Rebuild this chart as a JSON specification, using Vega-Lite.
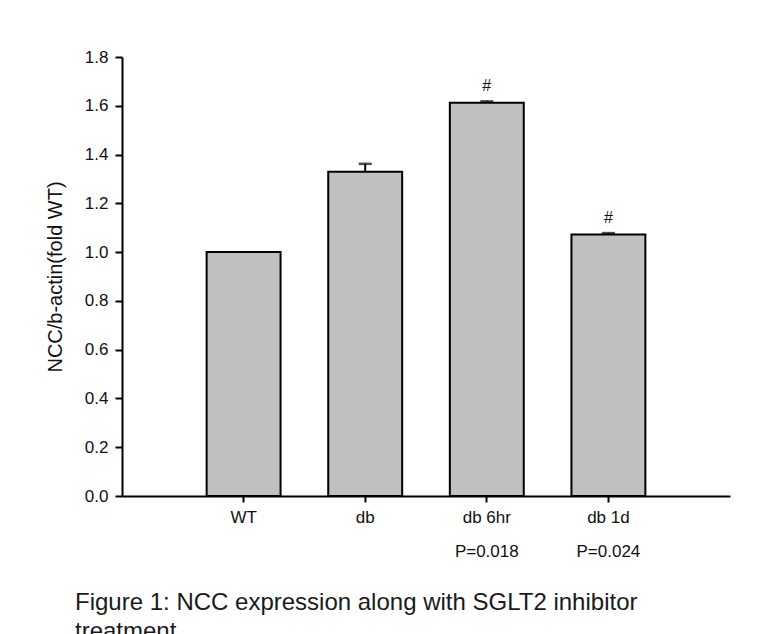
{
  "$schema": "https://vega.github.io/schema/vega-lite/v6.json",
  "autosize": {"type": "none"},
  "width": 608,
  "height": 439,
  "padding": {"left": 122, "top": 57, "right": 42, "bottom": 138},
  "background": "#ffffff",
  "title": {
    "text": ["Figure 1:  NCC expression  along with SGLT2 inhibitor", "treatment"],
    "orient": "bottom",
    "anchor": "start",
    "frame": "group",
    "dx": -47,
    "offset": 31,
    "baseline": "top",
    "font": "Liberation Sans",
    "fontSize": 24,
    "fontWeight": "normal",
    "lineHeight": 29,
    "color": "#1a1a1a"
  },
  "config": {
    "view": {"stroke": null},
    "axis": {
      "grid": false,
      "domainColor": "#000000",
      "domainWidth": 2,
      "tickColor": "#000000",
      "tickWidth": 2,
      "labelColor": "#111111",
      "labelFont": "Liberation Sans",
      "labelFontSize": 17,
      "titleFont": "Liberation Sans",
      "titleColor": "#111111",
      "titleFontWeight": "normal"
    }
  },
  "data": {
    "values": [
      {"group": "WT", "value": 1.0, "upper": 1.0, "p": "", "sig": ""},
      {"group": "db", "value": 1.33, "upper": 1.362, "p": "", "sig": ""},
      {"group": "db 6hr", "value": 1.612, "upper": 1.618, "p": "P=0.018", "sig": "#"},
      {"group": "db 1d", "value": 1.072, "upper": 1.078, "p": "P=0.024", "sig": "#"}
    ]
  },
  "encoding": {
    "x": {
      "field": "group",
      "type": "nominal",
      "sort": ["WT", "db", "db 6hr", "db 1d"],
      "scale": {"paddingInner": 0.392, "paddingOuter": 0.696},
      "axis": {"title": null, "labelAngle": 0, "tickSize": 6, "labelPadding": 7}
    }
  },
  "layer": [
    {
      "mark": {"type": "bar", "fill": "#c0c0c0", "stroke": "#000000", "strokeWidth": 2},
      "encoding": {
        "y": {
          "field": "value",
          "type": "quantitative",
          "scale": {"domain": [0, 1.8], "nice": false, "zero": true},
          "axis": {
            "values": [0, 0.2, 0.4, 0.6, 0.8, 1.0, 1.2, 1.4, 1.6, 1.8],
            "format": ".1f",
            "tickSize": 7,
            "labelPadding": 7,
            "title": "NCC/b-actin(fold WT)",
            "titleFontSize": 20,
            "titlePadding": 19
          }
        }
      }
    },
    {
      "transform": [{"filter": "datum.upper > datum.value"}],
      "mark": {"type": "rule", "color": "#000000", "strokeWidth": 2},
      "encoding": {
        "y": {"field": "value", "type": "quantitative"},
        "y2": {"field": "upper"}
      }
    },
    {
      "transform": [{"filter": "datum.upper > datum.value"}],
      "mark": {"type": "tick", "orient": "horizontal", "color": "#000000", "size": 13, "thickness": 2.5},
      "encoding": {
        "y": {"field": "upper", "type": "quantitative"}
      }
    },
    {
      "mark": {"type": "text", "font": "Liberation Sans", "fontSize": 16, "baseline": "alphabetic", "dy": -10, "color": "#111111"},
      "encoding": {
        "y": {"field": "upper", "type": "quantitative"},
        "text": {"field": "sig"}
      }
    },
    {
      "mark": {"type": "text", "font": "Liberation Sans", "fontSize": 17, "baseline": "alphabetic", "dy": 61, "color": "#111111"},
      "encoding": {
        "y": {"datum": 0},
        "text": {"field": "p"}
      }
    }
  ]
}
